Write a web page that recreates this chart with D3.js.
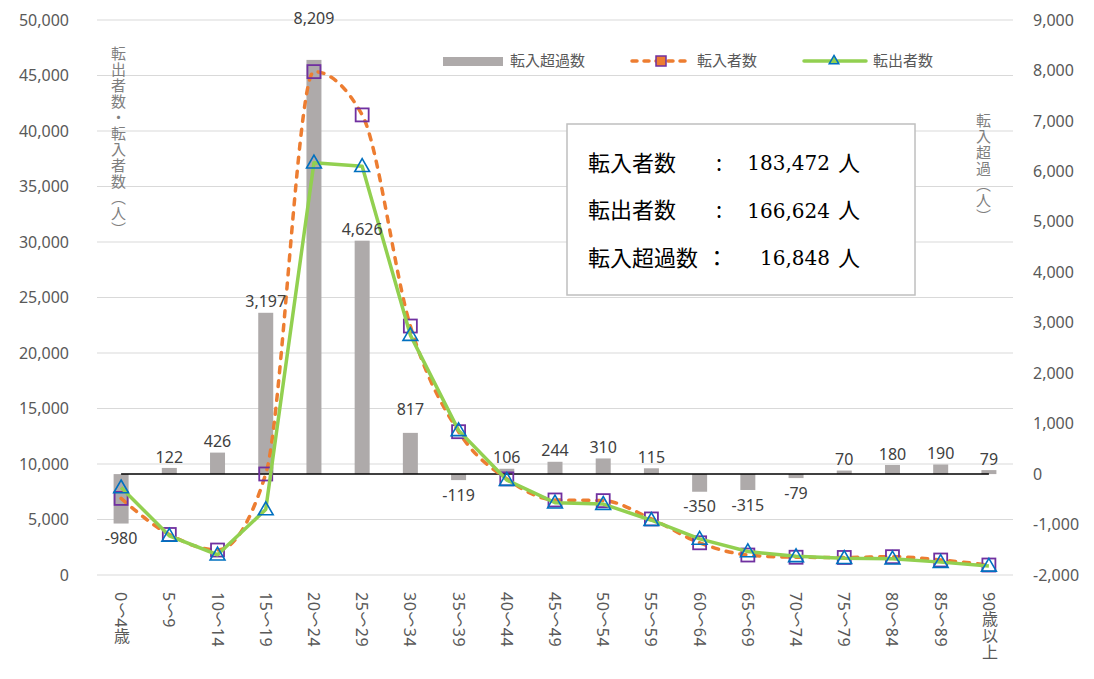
<!DOCTYPE html>
<html lang="ja">
<head>
<meta charset="utf-8">
<title>年齢別 転入・転出者数</title>
<script src="https://d3js.org/d3.v7.min.js"></script>
<style>
body { margin: 0; background: #fff; }
text { font-family: "Noto Sans", "Noto Sans CJK JP", sans-serif; }
.tick text { fill: #595959; font-size: 16px; }
.grid line { stroke: #d9d9d9; stroke-width: 1; }
.vtitle { fill: #7f7f7f; font-size: 15px; writing-mode: vertical-rl; letter-spacing: 1px; }
.label { fill: #404040; font-size: 16px; text-anchor: middle; }
.legend text { fill: #595959; font-size: 15px; }
.box text { fill: #000; }
</style>
</head>
<body>
<div id="chart"></div>
<script>

var ages = ["0～4歳", "5～9", "10～14", "15～19", "20～24", "25～29", "30～34", "35～39", "40～44",
    "45～49", "50～54", "55～59", "60～64", "65～69", "70～74", "75～79", "80～84", "85～89", "90歳以上"];

// 転入超過数 (right axis)
var netMigration = [-980, 122, 426, 3197, 8209, 4626, 817, -119, 106, 244, 310, 115, -350, -315, -79, 70, 180, 190, 79];

// 転入者数 / 転出者数 (left axis)
var inflow = [6900, 3650, 2250, 9100, 45350, 41450, 22430, 12910, 8660, 6760, 6700, 5050, 2900, 1800, 1600, 1580, 1650, 1350, 900];
var outflow = [7880, 3528, 1824, 5903, 37141, 36824, 21613, 13029, 8554, 6516, 6390, 4935, 3250, 2115, 1679, 1510, 1470, 1160, 821];

var leftTicks = [0, 5000, 10000, 15000, 20000, 25000, 30000, 35000, 40000, 45000, 50000];
var rightTicks = [-2000, -1000, 0, 1000, 2000, 3000, 4000, 5000, 6000, 7000, 8000, 9000];

var totalLabels = ["転入者数", "転出者数", "転入超過数"];
var totalColons = [":", ":", "："];
var totalValues = ["183,472", "166,624", "16,848"];

var W = 1094, H = 679;
var plot = {left: 97, right: 1013, top: 20, bottom: 575};

var locale = d3.formatLocale({decimal: ".", thousands: ",", grouping: [3], currency: ["", ""], minus: "-"});
var fmt = locale.format(",");

var svg = d3.select("#chart").append("svg")
    .attr("width", W)
    .attr("height", H);

var x = d3.scaleBand()
    .domain(ages)
    .range([plot.left, plot.right]);

var yLeft = d3.scaleLinear()
    .domain([0, 50000])
    .range([plot.bottom, plot.top]);

var yRight = d3.scaleLinear()
    .domain([-2000, 9000])
    .range([plot.bottom, plot.top]);

var cx = function(i) { return x(ages[i]) + x.bandwidth() / 2; };

// gridlines
svg.append("g")
    .attr("class", "grid")
    .selectAll("line")
    .data(leftTicks)
    .enter().append("line")
        .attr("x1", plot.left)
        .attr("x2", plot.right)
        .attr("y1", function(d) { return yLeft(d); })
        .attr("y2", function(d) { return yLeft(d); });

// axes
var axL = svg.append("g")
    .attr("transform", "translate(" + (plot.left - 25) + ",0)")
    .call(d3.axisLeft(yLeft).tickValues(leftTicks).tickFormat(fmt).tickSize(0));
axL.select(".domain").remove();

var axR = svg.append("g")
    .attr("transform", "translate(" + (plot.right + 17) + ",0)")
    .call(d3.axisRight(yRight).tickValues(rightTicks).tickFormat(fmt).tickSize(0));
axR.select(".domain").remove();

var axB = svg.append("g")
    .attr("transform", "translate(0," + plot.bottom + ")")
    .call(d3.axisBottom(x).tickSize(0));
axB.select(".domain").remove();
axB.selectAll(".tick text")
    .attr("y", 17)
    .attr("dy", null)
    .style("writing-mode", "vertical-rl")
    .style("text-orientation", "mixed")
    .style("letter-spacing", "0.5px")
    .style("text-anchor", "start");

// bars
var barW = 15;
svg.append("g")
    .selectAll("rect")
    .data(netMigration)
    .enter().append("rect")
        .attr("x", function(d, i) { return cx(i) - barW / 2; })
        .attr("width", barW)
        .attr("y", function(d) { return yRight(Math.max(0, d)); })
        .attr("height", function(d) { return Math.abs(yRight(d) - yRight(0)); })
        .attr("fill", "#aeaaaa");

// zero line
svg.append("line")
    .attr("x1", cx(0))
    .attr("x2", cx(ages.length - 1))
    .attr("y1", yRight(0))
    .attr("y2", yRight(0))
    .attr("stroke", "#000")
    .attr("stroke-width", 1.5);

// 転入者数 line
var lineIn = d3.line()
    .x(function(d, i) { return cx(i); })
    .y(function(d) { return yLeft(d); })
    .curve(d3.curveMonotoneX);

svg.append("path")
    .datum(inflow)
    .attr("d", lineIn)
    .attr("fill", "none")
    .attr("stroke", "#ed7d31")
    .attr("stroke-width", 3.5)
    .attr("stroke-dasharray", "6,8")
    .attr("stroke-linecap", "round");

var sq = 13;
svg.append("g")
    .selectAll("rect")
    .data(inflow)
    .enter().append("rect")
        .attr("x", function(d, i) { return cx(i) - sq / 2; })
        .attr("y", function(d) { return yLeft(d) - sq / 2; })
        .attr("width", sq)
        .attr("height", sq)
        .attr("fill", "none")
        .attr("stroke", "#7030a0")
        .attr("stroke-width", 1.8);

// 転出者数 line
var lineOut = d3.line()
    .x(function(d, i) { return cx(i); })
    .y(function(d) { return yLeft(d); });

svg.append("path")
    .datum(outflow)
    .attr("d", lineOut)
    .attr("fill", "none")
    .attr("stroke", "#92d050")
    .attr("stroke-width", 3.5)
    .attr("stroke-linejoin", "round");

var tri = d3.symbol().type(d3.symbolTriangle).size(95);
svg.append("g")
    .selectAll("path")
    .data(outflow)
    .enter().append("path")
        .attr("d", tri)
        .attr("transform", function(d, i) { return "translate(" + cx(i) + "," + (yLeft(d) + 1) + ")"; })
        .attr("fill", "none")
        .attr("stroke", "#0070c0")
        .attr("stroke-width", 1.6);

// data labels
var nudge = {4: -31, 6: -12};
svg.append("g")
    .selectAll("text")
    .data(netMigration)
    .enter().append("text")
        .attr("class", "label")
        .attr("x", function(d, i) { return cx(i); })
        .attr("y", function(d, i) {
            var y = d >= 0 ? yRight(d) - 11 : yRight(d) + 15;
            return y + (nudge[i] || 0);
        })
        .attr("dy", "0.35em")
        .text(function(d) { return fmt(d); });

// axis titles
svg.append("text")
    .attr("class", "vtitle")
    .attr("x", 118)
    .attr("y", 46)
    .text("転出者数・転入者数（人）");

svg.append("text")
    .attr("class", "vtitle")
    .attr("x", 983)
    .attr("y", 113)
    .text("転入超過（人）");

// legend
var legend = svg.append("g").attr("class", "legend");
legend.append("rect")
    .attr("x", 443).attr("y", 57).attr("width", 60).attr("height", 9)
    .attr("fill", "#aeaaaa");
legend.append("text").attr("x", 510).attr("y", 61).attr("dy", "0.35em").text("転入超過数");

legend.append("line")
    .attr("x1", 632).attr("x2", 692).attr("y1", 61).attr("y2", 61)
    .attr("stroke", "#ed7d31").attr("stroke-width", 3.5)
    .attr("stroke-dasharray", "5,7").attr("stroke-linecap", "round");
legend.append("rect")
    .attr("x", 656).attr("y", 56).attr("width", 10).attr("height", 10)
    .attr("fill", "#ed7d31").attr("stroke", "#7030a0").attr("stroke-width", 1.5);
legend.append("text").attr("x", 697).attr("y", 61).attr("dy", "0.35em").text("転入者数");

legend.append("line")
    .attr("x1", 804).attr("x2", 866).attr("y1", 61).attr("y2", 61)
    .attr("stroke", "#92d050").attr("stroke-width", 3.5).attr("stroke-linecap", "round");
legend.append("path")
    .attr("d", d3.symbol().type(d3.symbolTriangle).size(40))
    .attr("transform", "translate(834,61)")
    .attr("fill", "#92d050").attr("stroke", "#0070c0").attr("stroke-width", 1.5);
legend.append("text").attr("x", 873).attr("y", 61).attr("dy", "0.35em").text("転出者数");

// totals box
var box = svg.append("g").attr("class", "box");
box.append("rect")
    .attr("x", 567).attr("y", 124).attr("width", 348).attr("height", 171)
    .attr("fill", "#fff").attr("stroke", "#bfbfbf").attr("stroke-width", 1.5);

var rows = box.selectAll(".row")
    .data(totalLabels)
    .enter().append("g")
        .attr("class", "row")
        .attr("transform", function(d, i) { return "translate(0," + (163 + i * 47.5) + ")"; });

rows.append("text")
    .attr("x", 588).attr("dy", "0.35em")
    .style("font-size", "22px")
    .style("font-family", "'Noto Sans CJK JP', serif")
    .text(function(d) { return d; });

rows.append("text")
    .attr("x", function(d, i) { return i === 2 ? 706 : 716; }).attr("dy", "0.35em")
    .style("font-size", "22px")
    .style("font-family", "'Noto Sans CJK JP', serif")
    .text(function(d, i) { return totalColons[i]; });

rows.append("text")
    .attr("x", 830).attr("dy", "0.35em")
    .style("text-anchor", "end")
    .style("font-size", "20px")
    .style("font-family", "'DejaVu Serif', serif")
    .text(function(d, i) { return totalValues[i]; });

rows.append("text")
    .attr("x", 838).attr("dy", "0.35em")
    .style("font-size", "22px")
    .style("font-family", "'Noto Sans CJK JP', serif")
    .text("人");

</script>
</body>
</html>
